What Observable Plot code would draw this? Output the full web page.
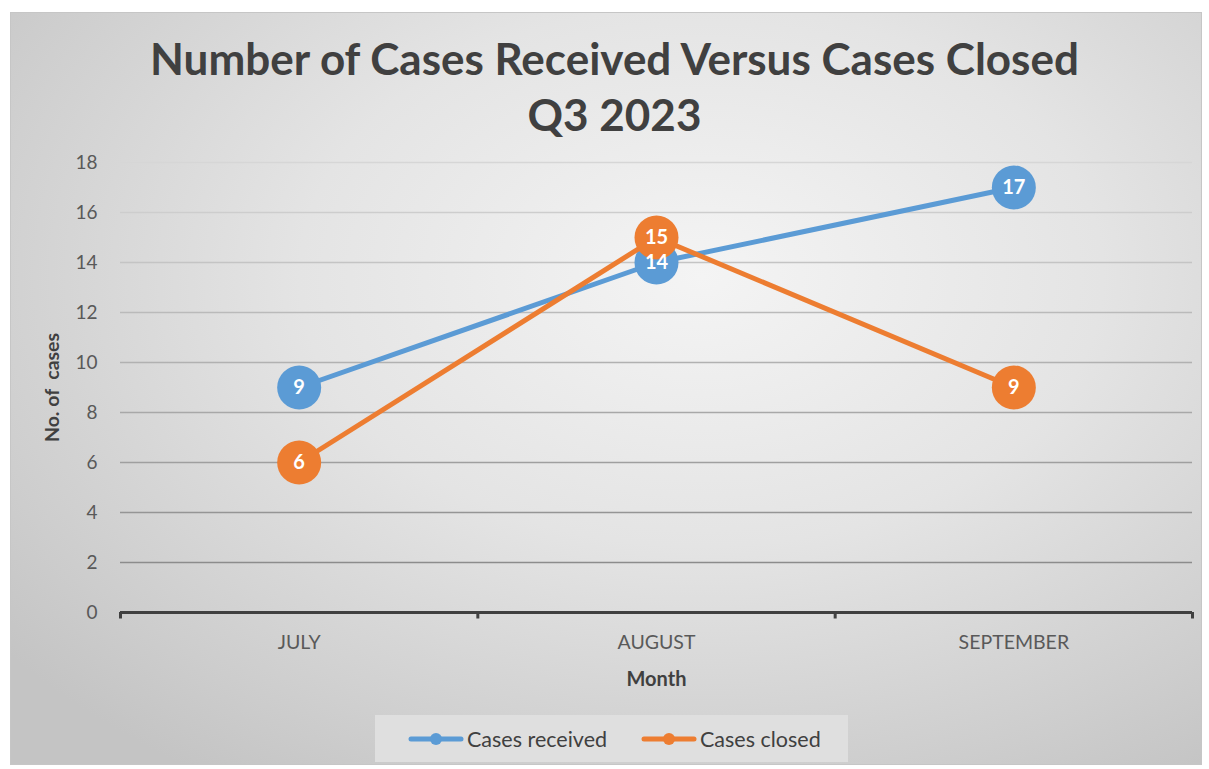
<!DOCTYPE html>
<html>
<head>
<meta charset="utf-8">
<script src="https://cdn.jsdelivr.net/npm/d3@7"></script>
<script src="https://cdn.jsdelivr.net/npm/@observablehq/plot@0.6"></script>
<style>
  html, body { margin: 0; padding: 0; background: #ffffff; }
  #frame {
    position: absolute; left: 10px; top: 12px; width: 1190px; height: 751px;
    border: 1px solid #c6c6c6;
    background: radial-gradient(ellipse 75% 80% at 58% 35%, #f4f4f4 0%, #e4e4e4 45%, #cdcdcd 85%, #c4c4c4 100%);
    overflow: hidden;
    font-family: Lato, "Open Sans", sans-serif;
  }
  #chart { position: absolute; left: -11px; top: -13px; width: 1209px; height: 769px; }
  #chart svg { max-width: none !important; }
  #title {
    position: absolute; left: -11px; width: 1229px; top: 17px; text-align: center;
    font-weight: bold; font-size: 44px; line-height: 56px; color: #404040;
  }
  #legend {
    position: absolute; left: 364px; top: 702px; width: 473px; height: 47px;
    background: #dfdfdf; font-size: 21.5px; color: #404040;
  }
  .item { position: absolute; top: 0; height: 47px; display: flex; align-items: center; }
  .item svg { margin-right: 3px; }
</style>
</head>
<body>
<div id="frame">
  <div id="chart"></div>
  <div id="title">Number of Cases Received Versus Cases Closed<br>Q3 2023</div>
  <div id="legend"></div>
</div>
<script>
const months = ["JULY", "AUGUST", "SEPTEMBER"];
const casesReceived = [9, 14, 17];
const casesClosed = [6, 15, 9];
const yTicks = [0, 2, 4, 6, 8, 10, 12, 14, 16, 18];
const seriesNames = ["Cases received", "Cases closed"];
const seriesColors = ["#5b9bd5", "#ed7d31"];

const received = months.map((m, i) => ({i, month: m, value: casesReceived[i], series: seriesNames[0]}));
const closed = months.map((m, i) => ({i, month: m, value: casesClosed[i], series: seriesNames[1]}));
const bounds = d3.range(months.length + 1).map(k => k - 0.5);
const gridColor = d3.scaleLinear().domain([2, 18]).range(["#8c8c8c", "#d6d6d6"]);

const chart = Plot.plot({
  width: 1209,
  height: 769,
  marginLeft: 120,
  marginRight: 17,
  marginTop: 162,
  marginBottom: 157,
  style: {background: "transparent", fontFamily: "Lato, 'Open Sans', sans-serif", fontSize: "18px", color: "#595959", overflow: "visible", maxWidth: "none"},
  x: {domain: [-0.5, months.length - 0.5], axis: null},
  y: {domain: [0, 18], axis: null},
  marks: [
    Plot.ruleY(yTicks.filter(d => d > 0), {stroke: d => gridColor(d), strokeWidth: 1.3}),
    Plot.ruleY([0], {stroke: "#404040", strokeWidth: 3}),
    Plot.ruleX(bounds, {y1: 0, y2: -0.26, stroke: "#404040", strokeWidth: 3}),
    Plot.axisY(yTicks, {tickSize: 0, tickPadding: 23, fontSize: 19, fill: "#595959", label: null}),
    Plot.axisX(d3.range(months.length), {tickSize: 0, tickPadding: 23, tickFormat: i => months[i], fontSize: 19.5, fill: "#595959", label: null}),
    Plot.text(["Month"], {frameAnchor: "bottom", dy: 73, fontWeight: "bold", fontSize: 20, fill: "#404040"}),
    Plot.text(["No. of  cases"], {frameAnchor: "left", textAnchor: "middle", dx: -68, dy: 0, rotate: -90, fontWeight: "bold", fontSize: 19.5, fill: "#404040"}),
    Plot.line(received, {x: "i", y: "value", stroke: seriesColors[0], strokeWidth: 5, strokeLinecap: "round", strokeLinejoin: "round"}),
    Plot.dot(received, {x: "i", y: "value", r: 22, fill: seriesColors[0]}),
    Plot.line(closed, {x: "i", y: "value", stroke: seriesColors[1], strokeWidth: 5, strokeLinecap: "round", strokeLinejoin: "round"}),
    Plot.dot(closed, {x: "i", y: "value", r: 22, fill: seriesColors[1]}),
    Plot.text(received, {x: "i", y: "value", text: "value", fill: "white", fontWeight: "bold", fontSize: 20}),
    Plot.text(closed, {x: "i", y: "value", text: "value", fill: "white", fontWeight: "bold", fontSize: 20})
  ]
});
document.getElementById("chart").appendChild(chart);

const legend = document.getElementById("legend");
const offsets = [33, 266];
seriesNames.forEach((name, k) => {
  const item = document.createElement("div");
  item.className = "item";
  item.style.left = offsets[k] + "px";
  item.innerHTML = `<svg width="56" height="14"><line x1="3" x2="53" y1="7" y2="7" stroke="${seriesColors[k]}" stroke-width="5" stroke-linecap="round"/><circle cx="28" cy="7" r="6" fill="${seriesColors[k]}"/></svg><span>${name}</span>`;
  legend.appendChild(item);
});
</script>
</body>
</html>
